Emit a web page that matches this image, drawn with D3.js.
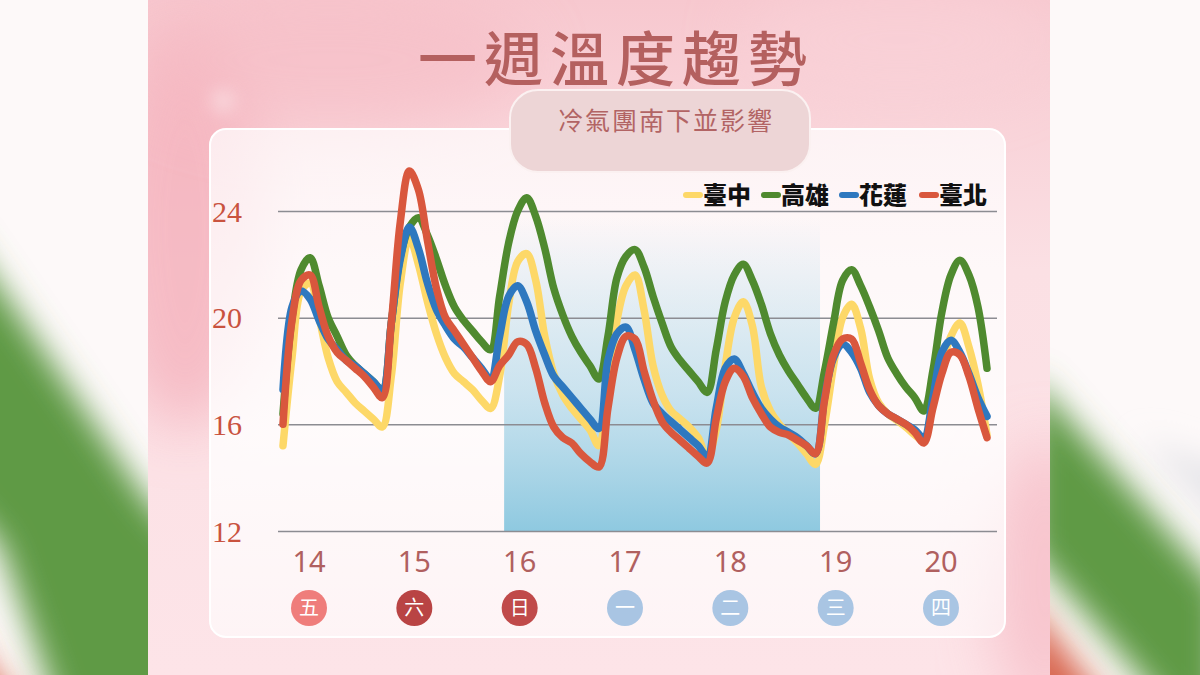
<!DOCTYPE html>
<html><head><meta charset="utf-8">
<script src="https://cdn.jsdelivr.net/npm/d3@7/dist/d3.min.js"></script>
<style>
html,body{margin:0;padding:0;background:#fff;}
svg{display:block;}
</style></head>
<body>
<svg id="chart" width="1200" height="675"></svg>
<script>
// ---------------- DATA ----------------
const title = "一週溫度趨勢";
const subtitle = "冷氣團南下並影響";
const hours = d3.range(8, 165, 2); // hours since 14th 00:00, every 2h
const seriesNames = ["臺中", "高雄", "花蓮", "臺北"];
const taichung = [
  15.2, 18.5, 21.0, 21.3, 20.0, 18.5, 17.6, 17.2, 16.8, 16.5,
  16.2, 15.9, 17.8, 21.3, 23.0, 22.0, 20.6, 19.4, 18.5, 17.9,
  17.6, 17.3, 16.9, 16.6, 17.8, 20.5, 22.1, 22.4, 21.4, 19.3,
  17.9, 17.1, 16.6, 16.2, 15.8, 15.2, 17.3, 19.9, 21.2, 21.6,
  20.3, 18.2, 17.1, 16.5, 16.2, 15.9, 15.5, 14.8, 15.8, 18.2,
  20.0, 20.6, 19.7, 17.4, 16.5, 16.0, 15.65, 15.3, 14.9, 14.5,
  16.0, 18.2, 20.0, 20.5, 19.6, 17.7, 16.8, 16.4, 16.15, 15.9,
  15.6, 15.4, 16.9, 18.2, 19.3, 19.8, 18.9, 17.5, 15.6
];
const kaohsiung = [
  16.4, 20.0, 21.8, 22.25, 21.2, 20.0, 19.3, 18.6, 18.2, 17.9,
  17.6, 17.3, 19.8, 22.3, 23.4, 23.75, 23.1, 22.2, 21.2, 20.4,
  19.9, 19.5, 19.1, 18.8, 20.8, 22.8, 24.0, 24.5, 23.8, 22.6,
  21.1, 20.1, 19.3, 18.7, 18.2, 17.7, 19.3, 21.5, 22.3, 22.55,
  21.9, 20.8, 19.8, 18.9, 18.4, 18.0, 17.6, 17.2, 18.8, 20.6,
  21.6, 22.0, 21.4, 20.5, 19.4, 18.6, 18.0, 17.5, 17.0, 16.6,
  18.0, 19.8, 21.4, 21.8, 21.2, 20.4, 19.5, 18.5, 17.9, 17.4,
  17.0, 16.5, 18.0, 20.2, 21.6, 22.15, 21.6, 20.4, 18.1
];
const hualien = [
  17.3, 20.4, 21.0, 20.7, 19.9, 19.2, 18.8, 18.4, 18.2, 17.9,
  17.6, 17.3, 19.8, 22.2, 23.4, 22.6, 21.3, 20.3, 19.7, 19.2,
  18.9, 18.5, 18.1, 17.7, 19.3, 20.8, 21.2, 20.6, 19.5, 18.6,
  17.8, 17.4, 17.0, 16.6, 16.2, 15.85, 18.4, 19.4, 19.65, 18.8,
  17.7, 16.8, 16.4, 16.1, 15.8, 15.5, 15.2, 14.8, 16.6, 18.1,
  18.45, 17.9, 17.2, 16.6, 16.2, 15.9, 15.7, 15.5, 15.2, 14.9,
  17.0, 18.5, 19.0, 18.7, 18.1, 17.2, 16.7, 16.4, 16.2, 16.0,
  15.8, 15.5, 17.0, 18.7, 19.15, 18.7, 17.9, 17.0, 16.3
];
const taipei = [
  16.0, 19.9, 21.4, 21.6, 20.4, 19.3, 18.7, 18.4, 18.1, 17.8,
  17.4, 17.0, 19.8, 23.6, 25.5, 24.8, 22.9, 21.1, 20.0, 19.5,
  19.0, 18.5, 18.0, 17.6, 18.2, 18.6, 19.1, 19.0, 18.1, 16.8,
  15.9, 15.5, 15.3, 14.9, 14.6, 14.4, 16.6, 18.5, 19.3, 19.2,
  18.0, 16.9, 16.1, 15.7, 15.4, 15.1, 14.8, 14.55, 16.2, 17.6,
  18.1, 17.8, 17.0, 16.4, 15.9, 15.7, 15.6, 15.4, 15.2, 14.9,
  16.9, 18.6, 19.2, 19.2, 18.3, 17.3, 16.7, 16.4, 16.2, 16.0,
  15.7, 15.3, 16.6, 17.9, 18.7, 18.6, 17.8, 16.6, 15.5
];
const seriesColors = ["#fdd868", "#4f8a2f", "#2e78bf", "#d9573d"];
const yTicks = [12, 16, 20, 24];
const dayLabels = ["14", "15", "16", "17", "18", "19", "20"];
const weekdays = ["五", "六", "日", "一", "二", "三", "四"];
const weekdayColors = ["#ef7d7b", "#b94444", "#c04a4a", "#a9c5e3", "#a9c5e3", "#a9c5e3", "#a9c5e3"];
const coldSpell = [57, 127]; // hours covered by the shaded band

// ---------------- DRAW ----------------
const svg = d3.select("#chart");
const defs = svg.append("defs");

const blur = (id, s) => defs.append("filter").attr("id", id)
  .attr("x", "-50%").attr("y", "-50%").attr("width", "200%").attr("height", "200%")
  .append("feGaussianBlur").attr("stdDeviation", s);
blur("b18", 16); blur("b30", 30); blur("b8", 8);

const bg = defs.append("linearGradient").attr("id", "bgGrad").attr("x1", 0).attr("y1", 0).attr("x2", 0).attr("y2", 1);
bg.append("stop").attr("offset", "0%").attr("stop-color", "#f7c8cf");
bg.append("stop").attr("offset", "40%").attr("stop-color", "#fbe0e4");
bg.append("stop").attr("offset", "100%").attr("stop-color", "#fde4e8");

const panelGrad = defs.append("linearGradient").attr("id", "panelGrad").attr("x1", 0).attr("y1", 0).attr("x2", 0).attr("y2", 1);
panelGrad.append("stop").attr("offset", "0%").attr("stop-color", "#ffffff").attr("stop-opacity", 0.72);
panelGrad.append("stop").attr("offset", "60%").attr("stop-color", "#ffffff").attr("stop-opacity", 0.85);
panelGrad.append("stop").attr("offset", "100%").attr("stop-color", "#ffffff").attr("stop-opacity", 0.6);

// side strips
svg.append("rect").attr("x", 0).attr("y", 0).attr("width", 1200).attr("height", 675).attr("fill", "#fdf9f9");
defs.append("clipPath").attr("id", "clipL").append("rect").attr("x", 0).attr("y", 0).attr("width", 148).attr("height", 675);
defs.append("clipPath").attr("id", "clipR").append("rect").attr("x", 1050).attr("y", 0).attr("width", 150).attr("height", 675);
const L = svg.append("g").attr("clip-path", "url(#clipL)");
L.append("path").attr("d", "M-60,600 L-60,760 L60,760 Z").attr("fill", "#d9694f").attr("filter", "url(#b18)");
L.append("path").attr("d", "M-40,230 L147,500 L220,580 L220,760 L75,760 L0,545 L-40,500 Z").attr("fill", "#5f9a45").attr("filter", "url(#b18)");
const R = svg.append("g").attr("clip-path", "url(#clipR)");
R.append("path").attr("d", "M1140,440 L1260,480 L1260,560 Z").attr("fill", "#e4e4e8").attr("filter", "url(#b18)");
R.append("path").attr("d", "M1020,590 L1150,760 L1020,760 Z").attr("fill", "#d8664f").attr("filter", "url(#b18)");
R.append("path").attr("d", "M1030,375 L1220,590 L1220,770 L1030,550 Z").attr("fill", "#5f9a45").attr("filter", "url(#b18)");

// centre background
defs.append("clipPath").attr("id", "clipC").append("rect").attr("x", 148).attr("y", 0).attr("width", 902).attr("height", 675);
const C = svg.append("g").attr("clip-path", "url(#clipC)");
C.append("rect").attr("x", 148).attr("y", 0).attr("width", 902).attr("height", 675).attr("fill", "url(#bgGrad)");
C.append("ellipse").attr("cx", 185).attr("cy", 230).attr("rx", 80).attr("ry", 200).attr("fill", "#f4afba").attr("opacity", 0.75).attr("filter", "url(#b30)");
C.append("ellipse").attr("cx", 330).attr("cy", 60).attr("rx", 200).attr("ry", 70).attr("fill", "#f6bcc5").attr("opacity", 0.6).attr("filter", "url(#b30)");
C.append("ellipse").attr("cx", 1045).attr("cy", 580).attr("rx", 55).attr("ry", 140).attr("fill", "#f5b8c2").attr("opacity", 0.7).attr("filter", "url(#b30)");
C.append("ellipse").attr("cx", 900).attr("cy", 40).attr("rx", 160).attr("ry", 60).attr("fill", "#f9d3d9").attr("opacity", 0.6).attr("filter", "url(#b30)");
C.append("circle").attr("cx", 223).attr("cy", 101).attr("r", 12).attr("fill", "#ffffff").attr("opacity", 0.35).attr("filter", "url(#b8)");

// title
svg.append("text").attr("x", 616).attr("y", 81).attr("text-anchor", "middle")
  .attr("font-family", "'Noto Sans CJK TC', 'Noto Sans CJK SC', sans-serif").attr("font-weight", 500)
  .attr("font-size", 59).attr("letter-spacing", 7).attr("fill", "#b4605f").text(title);

// panel
svg.append("rect").attr("x", 210).attr("y", 129).attr("width", 795).attr("height", 508).attr("rx", 16)
  .attr("fill", "url(#panelGrad)").attr("stroke", "#ffffff").attr("stroke-width", 2);

// subtitle box
svg.append("rect").attr("x", 510).attr("y", 90).attr("width", 300).attr("height", 82).attr("rx", 28)
  .attr("fill", "#edd5d6").attr("stroke", "#fbf1f1").attr("stroke-width", 2);
svg.append("text").attr("x", 666).attr("y", 130).attr("text-anchor", "middle")
  .attr("font-family", "'Noto Sans CJK TC', sans-serif").attr("font-size", 25).attr("letter-spacing", 2)
  .attr("fill", "#b26464").text(subtitle);

// scales
const x = d3.scaleLinear().domain([8, 164]).range([283, 987]);
const y = d3.scaleLinear().domain([12, 24]).range([531, 211]);
const xDay = d3.scalePoint().domain(dayLabels).range([309, 941]);

// shaded band
const shade = defs.append("linearGradient").attr("id", "shadeGrad").attr("gradientUnits", "userSpaceOnUse")
  .attr("x1", 0).attr("y1", y(23.8)).attr("x2", 0).attr("y2", y(12));
shade.append("stop").attr("offset", "0%").attr("stop-color", "#9fd0e4").attr("stop-opacity", 0);
shade.append("stop").attr("offset", "55%").attr("stop-color", "#a9d4e7").attr("stop-opacity", 0.6);
shade.append("stop").attr("offset", "100%").attr("stop-color", "#8ec9e0").attr("stop-opacity", 1);
svg.append("rect").attr("x", x(coldSpell[0])).attr("y", y(23.8))
  .attr("width", x(coldSpell[1]) - x(coldSpell[0])).attr("height", y(12) - y(23.8))
  .attr("fill", "url(#shadeGrad)");

// grid + y labels
const yAxis = svg.append("g").attr("transform", "translate(278,0)")
  .call(d3.axisRight(y).tickValues(yTicks).tickSize(719).tickFormat(""));
yAxis.select(".domain").remove();
yAxis.selectAll("line").attr("stroke", "#8c8c92").attr("stroke-width", 1.5);
svg.append("g").selectAll("text").data(yTicks).join("text")
  .attr("x", 212).attr("y", d => y(d)).attr("dy", "0.35em")
  .attr("font-family", "'Liberation Serif', 'DejaVu Serif', serif").attr("font-size", 30)
  .attr("fill", "#c9533f").text(d => d);

// lines
const allSeries = [taichung, kaohsiung, hualien, taipei];
const line = d3.line().x((d, i) => x(hours[i])).y(d => y(d)).curve(d3.curveCatmullRom.alpha(0.5));
svg.append("g").selectAll("path").data(allSeries).join("path")
  .attr("d", d => line(d)).attr("fill", "none")
  .attr("stroke", (d, i) => seriesColors[i]).attr("stroke-width", 7.5)
  .attr("stroke-linecap", "round").attr("stroke-linejoin", "round");

// legend
const legendX = [684, 762, 840, 920];
const lg = svg.append("g").selectAll("g").data(seriesNames).join("g")
  .attr("transform", (d, i) => `translate(${legendX[i]},195)`);
lg.append("line").attr("x1", 2).attr("x2", 16).attr("y1", 0).attr("y2", 0)
  .attr("stroke", (d, i) => seriesColors[i]).attr("stroke-width", 6).attr("stroke-linecap", "round");
lg.append("text").attr("x", 19).attr("y", 0).attr("dy", "0.36em")
  .attr("font-family", "'Noto Sans CJK TC', serif").attr("font-weight", 900).attr("font-size", 24)
  .attr("fill", "#111").text(d => d);

// x day labels
const xAxisG = svg.append("g");
xAxisG.selectAll("text").data(dayLabels).join("text")
  .attr("x", d => xDay(d)).attr("y", 562).attr("dy", "0.35em").attr("text-anchor", "middle")
  .attr("font-family", "'Noto Sans', sans-serif").attr("font-size", 29).attr("fill", "#b0605f").text(d => d);
const wd = svg.append("g").selectAll("g").data(dayLabels).join("g")
  .attr("transform", d => `translate(${xDay(d)},608)`);
wd.append("circle").attr("r", 18).attr("fill", (d, i) => weekdayColors[i]);
wd.append("text").attr("dy", "0.36em").attr("text-anchor", "middle")
  .attr("font-family", "'Noto Sans CJK TC', sans-serif").attr("font-size", 20).attr("fill", "#fff")
  .text((d, i) => weekdays[i]);
</script>
</body></html>
